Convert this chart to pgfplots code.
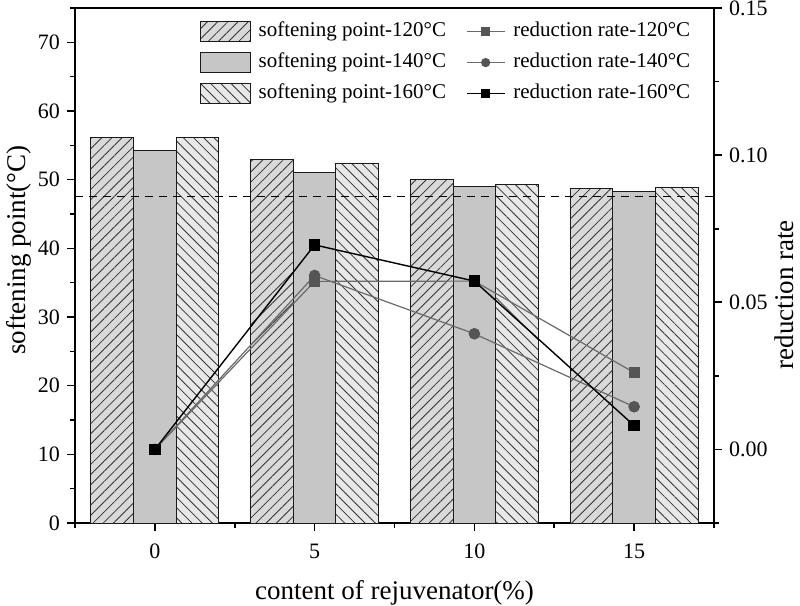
\documentclass[border=0pt]{standalone}
\usepackage{fontspec}
\setmainfont{Liberation Serif}
\usepackage{pgfplots}
\pgfplotsset{compat=1.18}
\usetikzlibrary{patterns.meta}
\definecolor{b120}{HTML}{D9D9D9}
\definecolor{b140}{HTML}{C6C6C6}
\definecolor{b160}{HTML}{E8E8E8}
\definecolor{edge}{HTML}{1A1A1A}
\definecolor{m120}{HTML}{555555}
\definecolor{l120}{HTML}{6A6A6A}
\begin{document}
\begin{tikzpicture}
\pgfplotsset{
  barlegend/.style={legend image code/.code={\draw[##1] (0pt,-5pt) rectangle (25pt,5pt);}},
  linelegend/.style={legend image code/.code={\draw[mark repeat=2,mark phase=2,##1] plot coordinates {(0pt,0pt) (9.5pt,0pt) (19pt,0pt)};}},
}
\begin{axis}[
  scale only axis, width=319.5pt, height=257.5pt,
  xmin=-2.5, xmax=17.5, ymin=0, ymax=75,
  xtick={0,5,10,15}, minor xtick={-2.5,2.5,7.5,12.5,17.5},
  ytick={0,10,...,70}, minor ytick={5,15,...,75},
  xtick pos=bottom, ytick pos=left,
  tick align=outside,
  major tick length=4pt, minor tick length=2.5pt,
  axis line style={line width=1pt},
  every tick/.style={black, line width=0.8pt},
  tick label style={font=\fontsize{11}{13}\selectfont},
  xticklabel style={yshift=-3pt},
  /pgf/number format/assume math mode=true,
  xlabel={content of rejuvenator(\%)},
  ylabel={softening point(°C)},
  label style={font=\fontsize{13.5}{16}\selectfont},
  xlabel style={at={(axis description cs:0.5,-0.135)}, anchor=center},
  ylabel style={at={(axis description cs:-0.0876,0.53)}, anchor=center},
  legend columns=2,
  legend style={at={(axis description cs:0.185,0.99)}, anchor=north west,
    draw=none, fill=none, font=\fontsize{10.5}{12}\selectfont,
    row sep=1.5pt,
    nodes={inner sep=2pt, text height=7.5pt, text depth=2.5pt},
    /tikz/every odd column/.append style={column sep=2pt},
    /tikz/column 3/.append style={column sep=6pt},
    /tikz/every even column/.append style={column sep=8pt}},
  legend cell align=left,
]
\addplot[ybar, bar width=1.333, bar shift=-1.333, fill=b120, draw=edge, line width=0.5pt,
  postaction={pattern={Lines[angle=45,distance=3.6pt,line width=0.4pt]}, pattern color=black!80},
  barlegend]
  coordinates {(0,56.2) (5,52.9) (10,50.0) (15,48.7)};
\addlegendentry{softening point-120°C}
\addlegendimage{l120, line width=0.6pt, mark=square*, mark size=2pt, mark options={fill=m120, draw=m120}, linelegend}
\addlegendentry{reduction rate-120°C}
\addplot[ybar, bar width=1.333, bar shift=0, fill=b140, draw=edge, line width=0.5pt, barlegend]
  coordinates {(0,54.2) (5,51.0) (10,49.0) (15,48.3)};
\addlegendentry{softening point-140°C}
\addlegendimage{l120, line width=0.6pt, mark=*, mark size=2pt, mark options={fill=m120, draw=m120}, linelegend}
\addlegendentry{reduction rate-140°C}
\addplot[ybar, bar width=1.333, bar shift=1.333, fill=b160, draw=edge, line width=0.5pt,
  postaction={pattern={Lines[angle=-45,distance=3.6pt,line width=0.4pt]}, pattern color=black!80},
  barlegend]
  coordinates {(0,56.2) (5,52.3) (10,49.3) (15,48.9)};
\addlegendentry{softening point-160°C}
\addlegendimage{black, line width=0.6pt, mark=square*, mark size=2pt, mark options={fill=black, draw=black}, linelegend}
\addlegendentry{reduction rate-160°C}
\addplot[black, line width=0.6pt, dash pattern=on 4pt off 3pt, forget plot]
  coordinates {(-2.5,47.6) (17.5,47.6)};
\end{axis}
\begin{axis}[
  scale only axis, width=319.5pt, height=257.5pt,
  xmin=-2.5, xmax=17.5, ymin=-0.025, ymax=0.15,
  axis x line=none, axis y line*=right,
  ytick={0,0.05,0.10,0.15}, minor ytick={-0.025,0.025,0.075,0.125},
  scaled y ticks=false,
  yticklabel style={/pgf/number format/.cd, fixed, fixed zerofill, precision=2},
  tick align=outside,
  major tick length=4pt, minor tick length=2.5pt,
  axis line style={line width=1pt},
  every tick/.style={black, line width=0.8pt},
  tick label style={font=\fontsize{11}{13}\selectfont},
  /pgf/number format/assume math mode=true,
  ylabel={reduction rate},
  label style={font=\fontsize{13.5}{16}\selectfont},
  ylabel style={at={(axis description cs:1.1095,0.443)}, anchor=center, rotate=0},
]
\addplot[l120, line width=0.6pt, mark=square*, mark size=2.5pt, mark options={fill=m120, draw=m120}]
  coordinates {(0,0) (5,0.0571) (10,0.0572) (15,0.0261)};
\addplot[l120, line width=0.6pt, mark=*, mark size=2.6pt, mark options={fill=m120, draw=m120}]
  coordinates {(0,0) (5,0.0591) (10,0.0393) (15,0.0145)};
\addplot[black, line width=0.7pt, mark=square*, mark size=2.5pt, mark options={fill=black, draw=black}]
  coordinates {(0,0) (5,0.0695) (10,0.0572) (15,0.0081)};
\end{axis}
\pgfresetboundingbox
\path (-37.5pt,-41.5pt) rectangle (362.5pt,261.5pt);
\end{tikzpicture}
\end{document}
